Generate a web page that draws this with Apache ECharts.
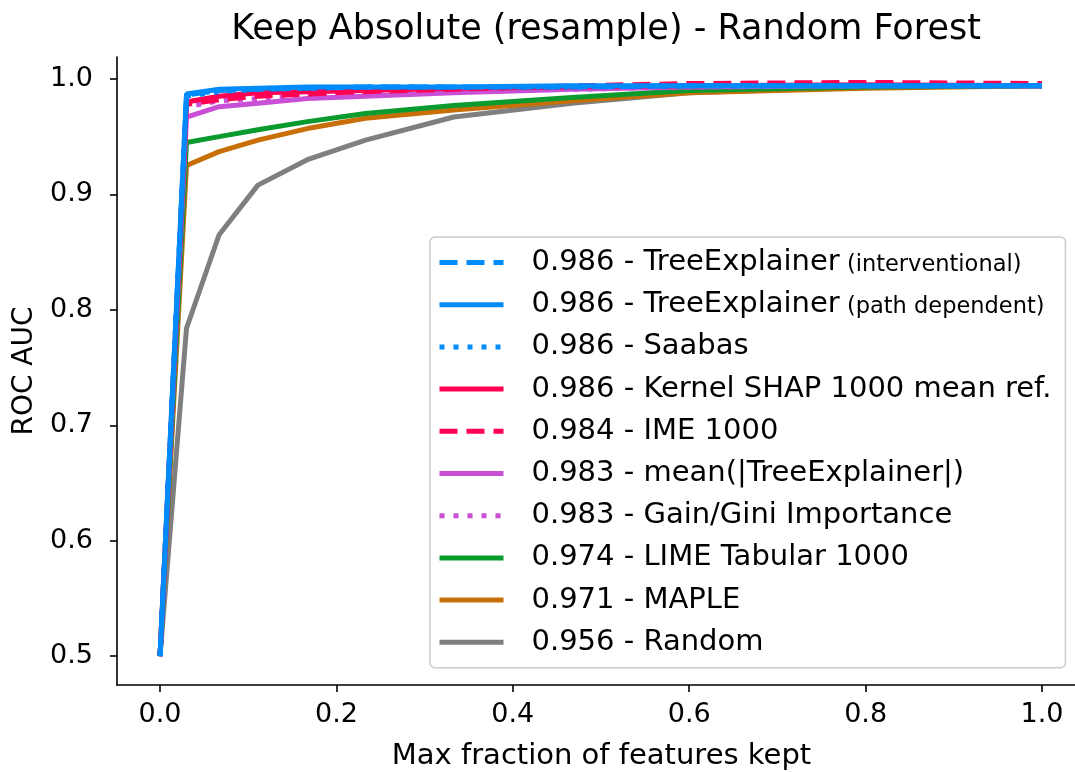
<!DOCTYPE html>
<html>
<head>
<meta charset="utf-8">
<script src="https://cdn.jsdelivr.net/npm/echarts@6/dist/echarts.min.js"></script>
<style>
html,body{margin:0;padding:0;background:#fff;}
#c{width:1075px;height:772px;}
</style>
</head>
<body>
<div id="c"></div>
<script>
// ---- data ----
const fractions = [0, 0.03, 0.067, 0.111, 0.167, 0.233, 0.333, 0.467, 0.6, 0.8, 1.0];
const treeInterventional = [0.5, 0.986, 0.990, 0.991, 0.992, 0.993, 0.993, 0.993, 0.994, 0.994, 0.994];
const treePathDependent  = [0.5, 0.987, 0.991, 0.992, 0.993, 0.993, 0.993, 0.994, 0.994, 0.994, 0.994];
const saabas             = [0.5, 0.985, 0.989, 0.991, 0.992, 0.993, 0.993, 0.993, 0.994, 0.994, 0.994];
const kernelShap         = [0.5, 0.980, 0.985, 0.988, 0.989, 0.990, 0.992, 0.993, 0.994, 0.995, 0.994];
const ime                = [0.5, 0.978, 0.982, 0.985, 0.987, 0.989, 0.991, 0.994, 0.996, 0.997, 0.996];
const meanAbsTree        = [0.5, 0.967, 0.976, 0.979, 0.983, 0.985, 0.988, 0.991, 0.993, 0.994, 0.994];
const giniImportance     = [0.5, 0.976, 0.981, 0.983, 0.985, 0.987, 0.989, 0.991, 0.993, 0.994, 0.994];
const limeTabular        = [0.5, 0.945, 0.950, 0.956, 0.963, 0.970, 0.977, 0.984, 0.990, 0.993, 0.994];
const maple              = [0.5, 0.925, 0.937, 0.947, 0.957, 0.966, 0.973, 0.981, 0.988, 0.992, 0.994];
const randomBaseline     = [0.5, 0.784, 0.865, 0.908, 0.930, 0.947, 0.967, 0.979, 0.988, 0.993, 0.994];

const xTicks = [0.0, 0.2, 0.4, 0.6, 0.8, 1.0];
const yTicks = [0.5, 0.6, 0.7, 0.8, 0.9, 1.0];

const seriesNames = [
  "0.986 - TreeExplainer (interventional)",
  "0.986 - TreeExplainer (path dependent)",
  "0.986 - Saabas",
  "0.986 - Kernel SHAP 1000 mean ref.",
  "0.984 - IME 1000",
  "0.983 - mean(|TreeExplainer|)",
  "0.983 - Gain/Gini Importance",
  "0.974 - LIME Tabular 1000",
  "0.971 - MAPLE",
  "0.956 - Random"
];
const seriesValues = [treeInterventional, treePathDependent, saabas, kernelShap, ime,
  meanAbsTree, giniImportance, limeTabular, maple, randomBaseline];
const seriesColors = ["#008bfb","#008bfb","#008bfb","#ff0052","#ff0052",
  "#c94fd6","#c94fd6","#0a9a2e","#c86f08","#7f7f7f"];
const DASH = [18, 9], DOT = [5, 9];
const seriesDash = [DASH, "solid", DOT, "solid", DASH, "solid", DOT, "solid", "solid", "solid"];

const FONT = "DejaVu Sans";
const chart = echarts.init(document.getElementById('c'), null, {renderer: 'canvas'});

const series = [];
for (let i = seriesNames.length - 1; i >= 0; i--) {
  series.push({
    name: seriesNames[i],
    type: 'line',
    symbol: 'none',
    smooth: false,
    animation: false,
    z: 10 - i,
    data: fractions.map((x, j) => [x, seriesValues[i][j]]),
    lineStyle: {color: seriesColors[i], width: 5, type: seriesDash[i], cap: 'butt'},
    itemStyle: {color: seriesColors[i]}
  });
}

function legendLabel(name) {
  const m = name.match(/^(.*?)( \(.*\))$/);
  if (m && m[1].indexOf('TreeExplainer') >= 0 && name.indexOf('|') < 0) {
    return '{a|' + m[1] + '}{b|' + m[2] + '}';
  }
  return '{a|' + name + '}';
}

chart.setOption({
  backgroundColor: '#fff',
  animation: false,
  title: {
    text: 'Keep Absolute (resample) - Random Forest',
    left: 601, top: 7, textAlign: 'center',
    textStyle: {fontFamily: FONT, fontSize: 35, fontWeight: 'normal', color: '#000'}
  },
  grid: {left: 117, top: 57, right: 0, height: 628, containLabel: false, outerBoundsMode: 'none'},
  xAxis: {
    type: 'value', min: -0.0488, max: 1.0374,
    name: 'Max fraction of features kept', nameLocation: 'middle', nameGap: 57,
    nameTextStyle: {fontFamily: FONT, fontSize: 29, color: '#000', padding: [0, 0, 0, 11]},
    axisLine: {show: true, onZero: false, lineStyle: {color: '#000', width: 1.6}},
    axisTick: {show: true, length: 7, lineStyle: {color: '#000', width: 1.6}, customValues: xTicks},
    axisLabel: {fontFamily: FONT, fontSize: 27, color: '#000', margin: 16, customValues: xTicks,
      formatter: v => v.toFixed(1)},
    splitLine: {show: false}
  },
  yAxis: {
    type: 'value', min: 0.475, max: 1.019,
    name: 'ROC AUC', nameLocation: 'middle', nameGap: 73, nameRotate: 90,
    nameTextStyle: {fontFamily: FONT, fontSize: 28, color: '#000'},
    axisLine: {show: true, onZero: false, lineStyle: {color: '#000', width: 1.6}},
    axisTick: {show: true, length: 7, lineStyle: {color: '#000', width: 1.6}, customValues: yTicks},
    axisLabel: {fontFamily: FONT, fontSize: 27, color: '#000', margin: 24, customValues: yTicks,
      formatter: v => v.toFixed(1)},
    splitLine: {show: false}
  },
  legend: {
    show: true,
    orient: 'vertical',
    left: 430, top: 237,
    data: seriesNames,
    itemWidth: 64, itemHeight: 14, itemGap: 13.2,
    padding: [11, 14, 11, 7],
    backgroundColor: 'rgba(255,255,255,0.85)',
    borderColor: '#cccccc', borderWidth: 1.5, borderRadius: 5,
    formatter: legendLabel,
    textStyle: {
      fontFamily: FONT, color: '#000', padding: [0, 0, 0, 23],
      rich: {
        a: {fontFamily: FONT, fontSize: 29, lineHeight: 30, color: '#000'},
        b: {fontFamily: FONT, fontSize: 22.5, lineHeight: 30, color: '#000', padding: [5, 0, 0, 0]}
      }
    },
    itemStyle: {opacity: 0},
    lineStyle: {width: 5}
  },
  series: series
});
</script>
</body>
</html>
